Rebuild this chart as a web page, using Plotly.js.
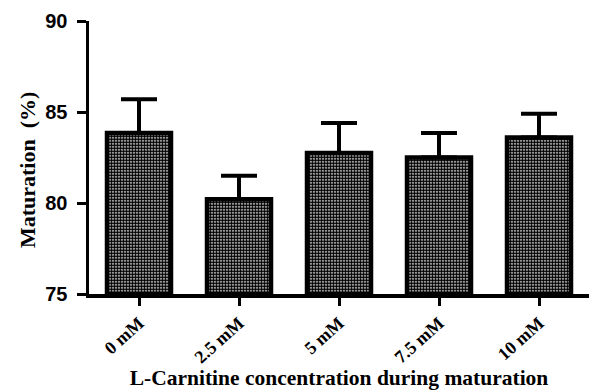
<!DOCTYPE html>
<html>
<head>
<meta charset="utf-8">
<script src="https://cdn.plot.ly/plotly-3.0.1.min.js"></script>
<style>html,body{margin:0;padding:0;background:#fff;}#chart{width:589px;height:390px;}</style>
</head>
<body>
<div id="chart"></div>
<script>
const categories = ["0 mM", "2.5 mM", "5 mM", "7.5 mM", "10 mM"];
const meanValues = [83.85, 80.2, 82.75, 82.5, 83.6];
const errorValues = [1.85, 1.3, 1.65, 1.35, 1.3];
const yTickValues = [75, 80, 85, 90];
const xTitle = "L-Carnitine concentration during maturation";
const yTitle = "Maturation  (%)";

const serif = "'Liberation Serif', 'DejaVu Serif', serif";
const sans = "'Liberation Sans', Arial, sans-serif";

const trace = {
  type: "bar",
  x: categories,
  y: meanValues.map(v => v - 75),
  base: 75,
  width: 0.64,
  marker: {
    color: "#ffffff",
    line: {color: "#000000", width: 4.5},
    pattern: {shape: ".", fgcolor: "#000000", bgcolor: "#ffffff", size: 3, solidity: 0.75, fillmode: "replace"}
  },
  error_y: {
    type: "data",
    symmetric: false,
    array: errorValues,
    arrayminus: errorValues.map(() => 0),
    color: "#000000",
    thickness: 4,
    width: 18
  },
  hoverinfo: "skip"
};

const layout = {
  width: 589,
  height: 390,
  margin: {l: 89, r: 0, t: 21, b: 96, autoexpand: false},
  paper_bgcolor: "#ffffff",
  plot_bgcolor: "#ffffff",
  showlegend: false,
  xaxis: {
    type: "category",
    range: [-0.5, 4.5],
    showline: true,
    linecolor: "#000000",
    linewidth: 3.5,
    ticks: "outside",
    ticklen: 8,
    tickwidth: 3,
    tickcolor: "#000000",
    tickangle: -42,
    tickfont: {family: serif, size: 18, color: "#000000", weight: "bold"},
    showgrid: false,
    zeroline: false,
    automargin: false,
    title: {text: xTitle, font: {family: serif, size: 21.5, color: "#000000", weight: "bold"}, standoff: 3}
  },
  yaxis: {
    range: [75, 90],
    tickvals: yTickValues,
    ticktext: yTickValues.map(String),
    showline: true,
    linecolor: "#000000",
    linewidth: 3.5,
    ticks: "outside",
    ticklen: 9,
    tickwidth: 3,
    tickcolor: "#000000",
    ticklabelstandoff: 5,
    tickfont: {family: sans, size: 20, color: "#000000", weight: "bold"},
    showgrid: false,
    zeroline: false,
    automargin: false
  },
  annotations: [{
    text: yTitle,
    xref: "paper", yref: "paper",
    x: -0.124, y: 0.454,
    xanchor: "center", yanchor: "middle",
    textangle: -90,
    showarrow: false,
    font: {family: serif, size: 22, color: "#000000", weight: "bold"}
  }]
};

Plotly.newPlot("chart", [trace], layout, {displayModeBar: false, staticPlot: true});
</script>
</body>
</html>
